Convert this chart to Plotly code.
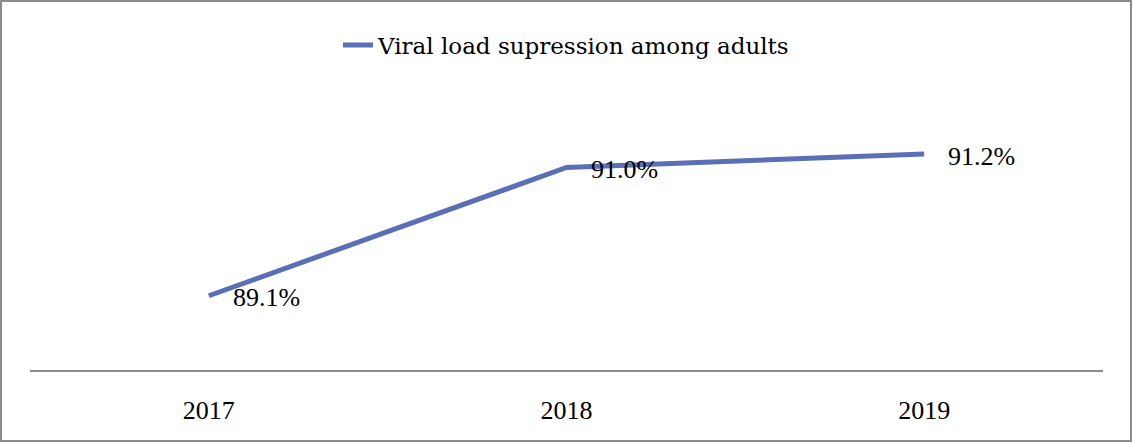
import plotly.graph_objects as go

years = ["2017", "2018", "2019"]
suppression = [89.1, 91.0, 91.2]
series_name = "Viral load supression among adults"

SERIF = "Liberation Serif, Times New Roman, serif"
WIDE_SERIF = "DejaVu Serif, serif"
LINE_COLOR = "#5A6FB5"
GRID_GRAY = "#8c8c8c"

W, H = 1133, 443
ML, MR, MT, MB = 30, 30, 100, 73
pw, ph = W - ML - MR, H - MT - MB

fig = go.Figure()
fig.add_trace(go.Scatter(
    x=years, y=suppression, mode="lines", name=series_name,
    line=dict(color=LINE_COLOR, width=5),
))

# value labels to the right of each point (category index positions)
for i, v in enumerate(suppression):
    fig.add_annotation(
        x=i, y=v, xref="x", yref="y", text=f"{v:.1f}%", showarrow=False,
        xanchor="left", yanchor="middle", xshift=22, yshift=-2,
        font=dict(family=SERIF, size=26, color="black"),
    )

# outer frame around the whole chart
fig.add_shape(
    type="rect", xref="paper", yref="paper",
    x0=(1 - ML) / pw, x1=(W - 2 - ML) / pw,
    y0=(MT + ph - (H - 2)) / ph, y1=(MT + ph - 1) / ph,
    line=dict(color=GRID_GRAY, width=2), fillcolor="rgba(0,0,0,0)",
)

fig.update_layout(
    width=W, height=H,
    margin=dict(l=ML, r=MR, t=MT, b=MB),
    paper_bgcolor="white", plot_bgcolor="white",
    font=dict(family=SERIF, size=26, color="black"),
    showlegend=True,
    legend=dict(
        orientation="h", x=0.5, xanchor="center", y=1.0 + (MT - 45) / ph,
        yanchor="middle", font=dict(family=WIDE_SERIF, size=23),
        bgcolor="rgba(0,0,0,0)",
    ),
    xaxis=dict(
        type="category", range=[-0.5, 2.5], showgrid=False, zeroline=False,
        showline=True, linecolor=GRID_GRAY, linewidth=2,
        ticks="", ticklabelstandoff=16,
        tickfont=dict(family=SERIF, size=26, color="black"),
    ),
    yaxis=dict(
        range=[88, 92], visible=False, showgrid=False, zeroline=False,
    ),
)

fig.write_html("out.html")
